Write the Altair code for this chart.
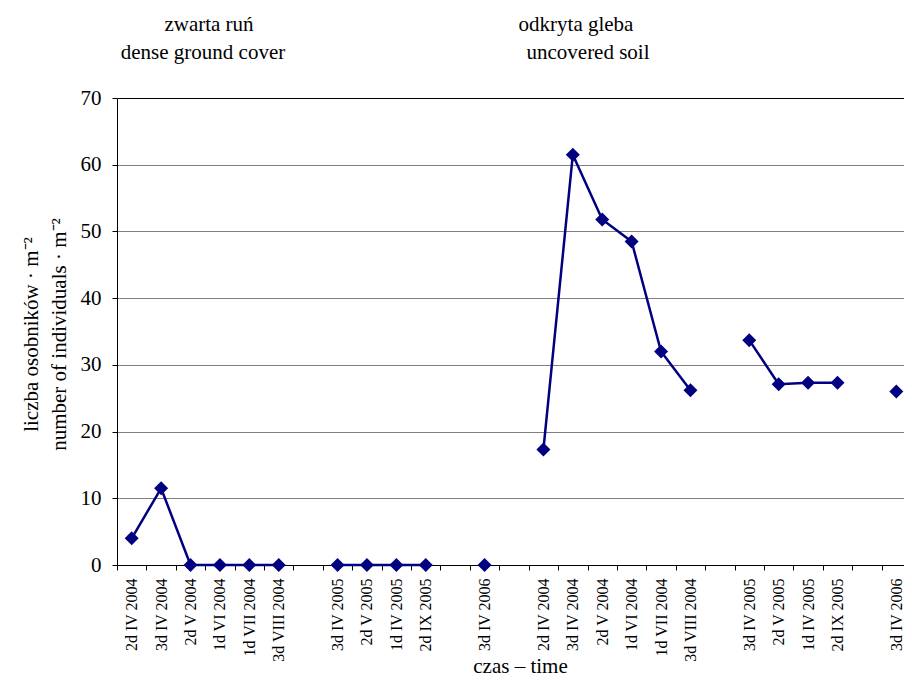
import json
import altair as alt
import pandas as pd

# x-axis slots (empty string = gap slot with no measurement)
slot_labels = [
    "2d IV 2004", "3d IV 2004", "2d V 2004", "1d VI 2004", "1d VII 2004", "3d VIII 2004", "",
    "3d IV 2005", "2d V 2005", "1d IV 2005", "2d IX 2005", "",
    "3d IV 2006", "",
    "2d IV 2004", "3d IV 2004", "2d V 2004", "1d VI 2004", "1d VII 2004", "3d VIII 2004", "",
    "3d IV 2005", "2d V 2005", "1d IV 2005", "2d IX 2005", "",
    "3d IV 2006",
]
# values per slot (None = gap)
values = [
    4.0, 11.5, 0, 0, 0, 0, None,
    0, 0, 0, 0, None,
    0, None,
    17.3, 61.5, 51.8, 48.5, 32.0, 26.2, None,
    33.7, 27.1, 27.3, 27.3, None,
    26.0,
]
y_ticks = [0, 10, 20, 30, 40, 50, 60, 70]
annot_top = ["zwarta ruń", "odkryta gleba"]
annot_bottom = ["dense ground cover", "uncovered soil"]
y_title = ["liczba osobników · m⁻²", "number of individuals · m⁻²"]
x_title = "czas – time"

slot_ids = [str(i) for i in range(len(slot_labels))]
rows = []
seg = 0
for i, v in enumerate(values):
    if v is None:
        seg += 1
        continue
    rows.append({"slot": slot_ids[i], "value": v, "seg": seg})
df = pd.DataFrame(rows)

FONT = "Liberation Serif"
NAVY = "#000080"

x_enc = alt.X(
    "slot:O",
    bandPosition=0.5,
    scale=alt.Scale(type="band", domain=slot_ids, paddingInner=0, paddingOuter=0,
                    range=[0, 794]),
    axis=alt.Axis(
        title=x_title,
        titleFont=FONT, titleFontSize=21, titleFontWeight="normal", titleColor="black",
        titleX=403, titleY=111, titleBaseline="bottom", titleAlign="center",
        labelExpr=json.dumps(slot_labels, ensure_ascii=False) + "[toNumber(datum.value)]",
        labelAngle=270, labelAlign="right", labelBaseline="middle",
        labelFont=FONT, labelFontSize=16, labelColor="black", labelPadding=8,
        labelOverlap=False,
        tickBand="extent", tickSize=5, tickColor="black",
        domainColor="black", grid=False,
    ),
)
y_enc = alt.Y(
    "value:Q",
    scale=alt.Scale(domain=[0, 70], nice=False),
    axis=alt.Axis(
        title=y_title,
        titleFont=FONT, titleFontSize=21, titleFontWeight="normal", titleColor="black",
        titleLineHeight=28, titleX=-86, titleY=236, titleAngle=270, titleBaseline="middle",
        titleAlign="center",
        values=y_ticks,
        labelFont=FONT, labelFontSize=21, labelColor="black", labelPadding=11,
        tickSize=5, tickColor="black", domainColor="black",
        grid=True,
        gridColor=alt.condition("datum.value == 70", alt.value("black"), alt.value("#808080")),
        gridWidth=1,
    ),
)

base = alt.Chart(df)
line = base.mark_line(color=NAVY, strokeWidth=2.5).encode(x=x_enc, y=y_enc, detail="seg:N")
pts = base.mark_point(shape="diamond", filled=True, size=196, opacity=1, color=NAVY).encode(
    x=x_enc, y=y_enc
)


def label(txt, px, py):
    return alt.Chart(pd.DataFrame({"t": [txt]})).mark_text(
        font=FONT, fontSize=21, color="black", align="center", baseline="middle"
    ).encode(text="t:N", x=alt.value(px), y=alt.value(py))


texts = [
    label(annot_top[0], 92, -73),
    label(annot_bottom[0], 86, -45),
    label(annot_top[1], 459, -73),
    label(annot_bottom[1], 471, -45),
]

chart = alt.layer(line, pts, *texts).properties(
    width=787,
    height=467,
    autosize=alt.AutoSizeParams(type="none"),
    padding={"left": 109, "top": 90, "right": 0, "bottom": 113},
    background="white",
).configure_view(stroke=None)

chart.save("out.html", embed_options={"renderer": "svg", "actions": False})
